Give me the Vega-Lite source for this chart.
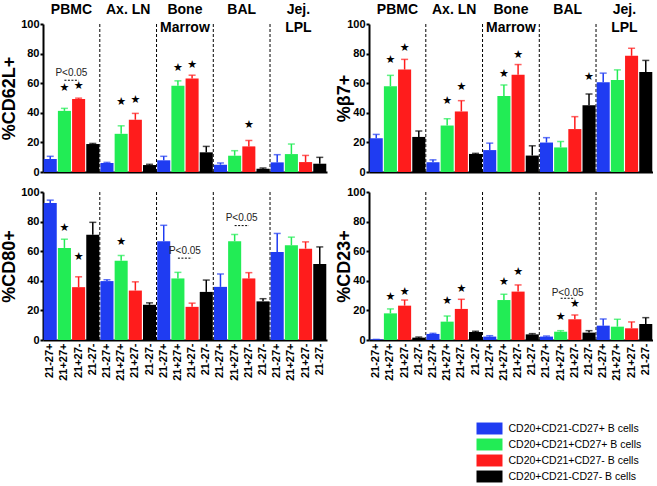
{
"$schema":"https://vega.github.io/schema/vega-lite/v6.json",
"padding":{"left":0,"top":3,"right":0,"bottom":0},
"config":{"view":{"stroke":null},"font":"Liberation Sans",
 "scale":{"bandPaddingInner":0.08,"bandPaddingOuter":0.05},
 "axis":{"labelColor":"black","labelFontWeight":"bold","labelFontSize":11,"domainColor":"black","domainWidth":2,"tickColor":"black","tickWidth":2,"tickSize":3,"titleFontSize":18,"titleFontWeight":"bold","titleColor":"black","grid":false},
 "axisX":{"ticks":false},
 "axisY":{"labelPadding":1,"titlePadding":2}},
"datasets":{
 "d":[
  {"p":"CD62L","x":"PBMC|21-27+","v":8.8,"e":10.6},
  {"p":"CD62L","x":"PBMC|21+27+","v":41.3,"e":43,"s":56.6},
  {"p":"CD62L","x":"PBMC|21+27-","v":49.4,"e":49.9,"s":57.8},
  {"p":"CD62L","x":"PBMC|21-27-","v":18.9,"e":19.3},
  {"p":"CD62L","x":"Ax. LN|21-27+","v":6.1,"e":6.5},
  {"p":"CD62L","x":"Ax. LN|21+27+","v":25.8,"e":31.2,"s":47.6},
  {"p":"CD62L","x":"Ax. LN|21+27-","v":35.3,"e":39.6,"s":48.8},
  {"p":"CD62L","x":"Ax. LN|21-27-","v":4.7,"e":5.2},
  {"p":"CD62L","x":"Bone Marrow|21-27+","v":7.9,"e":10.6},
  {"p":"CD62L","x":"Bone Marrow|21+27+","v":58.2,"e":61.6,"s":70},
  {"p":"CD62L","x":"Bone Marrow|21+27-","v":63.1,"e":65.4,"s":72.4},
  {"p":"CD62L","x":"Bone Marrow|21-27-","v":13.3,"e":17.3},
  {"p":"CD62L","x":"BAL|21-27+","v":4.9,"e":6.1},
  {"p":"CD62L","x":"BAL|21+27+","v":11,"e":14.4},
  {"p":"CD62L","x":"BAL|21+27-","v":17.3,"e":21.3,"s":31.9},
  {"p":"CD62L","x":"BAL|21-27-","v":2.2,"e":2.7},
  {"p":"CD62L","x":"Jej. LPL|21-27+","v":6.5,"e":11.7},
  {"p":"CD62L","x":"Jej. LPL|21+27+","v":12.1,"e":18.9},
  {"p":"CD62L","x":"Jej. LPL|21+27-","v":6.7,"e":11.2},
  {"p":"CD62L","x":"Jej. LPL|21-27-","v":5.6,"e":9.9},
  {"p":"B7","x":"PBMC|21-27+","v":22.8,"e":25.4},
  {"p":"B7","x":"PBMC|21+27+","v":58,"e":65.3,"s":75.7},
  {"p":"B7","x":"PBMC|21+27-","v":69.2,"e":76.1,"s":83.6},
  {"p":"B7","x":"PBMC|21-27-","v":23.7,"e":27.7},
  {"p":"B7","x":"Ax. LN|21-27+","v":6.6,"e":8.2},
  {"p":"B7","x":"Ax. LN|21+27+","v":31.4,"e":36,"s":48.2},
  {"p":"B7","x":"Ax. LN|21+27-","v":40.9,"e":48.2,"s":57.1},
  {"p":"B7","x":"Ax. LN|21-27-","v":12.2,"e":12.6},
  {"p":"B7","x":"Bone Marrow|21-27+","v":14.8,"e":19.5},
  {"p":"B7","x":"Bone Marrow|21+27+","v":51.3,"e":58.8,"s":66.4},
  {"p":"B7","x":"Bone Marrow|21+27-","v":65.7,"e":72.6,"s":79},
  {"p":"B7","x":"Bone Marrow|21-27-","v":11.1,"e":17.7},
  {"p":"B7","x":"BAL|21-27+","v":19.9,"e":23.2},
  {"p":"B7","x":"BAL|21+27+","v":16.6,"e":20.6},
  {"p":"B7","x":"BAL|21+27-","v":29,"e":37.4},
  {"p":"B7","x":"BAL|21-27-","v":45.1,"e":52.7,"s":64.2},
  {"p":"B7","x":"Jej. LPL|21-27+","v":60.6,"e":66.8},
  {"p":"B7","x":"Jej. LPL|21+27+","v":62.2,"e":69},
  {"p":"B7","x":"Jej. LPL|21+27-","v":78.5,"e":83.6},
  {"p":"B7","x":"Jej. LPL|21-27-","v":67.5,"e":75.4},
  {"p":"CD80","x":"PBMC|21-27+","v":92.5,"e":94.5},
  {"p":"CD80","x":"PBMC|21+27+","v":62.2,"e":68.1,"s":75.9},
  {"p":"CD80","x":"PBMC|21+27-","v":35.7,"e":42.7,"s":55.8},
  {"p":"CD80","x":"PBMC|21-27-","v":71.1,"e":79.5},
  {"p":"CD80","x":"Ax. LN|21-27+","v":39.8,"e":40.7},
  {"p":"CD80","x":"Ax. LN|21+27+","v":53.5,"e":57.1,"s":66.3},
  {"p":"CD80","x":"Ax. LN|21+27-","v":33.4,"e":39.3},
  {"p":"CD80","x":"Ax. LN|21-27-","v":23.8,"e":25.1},
  {"p":"CD80","x":"Bone Marrow|21-27+","v":66.7,"e":77.5},
  {"p":"CD80","x":"Bone Marrow|21+27+","v":41.6,"e":45.7},
  {"p":"CD80","x":"Bone Marrow|21+27-","v":22.4,"e":24.9},
  {"p":"CD80","x":"Bone Marrow|21-27-","v":32.5,"e":40.5},
  {"p":"CD80","x":"BAL|21-27+","v":35.9,"e":44.6},
  {"p":"CD80","x":"BAL|21+27+","v":66.7,"e":71.3},
  {"p":"CD80","x":"BAL|21+27-","v":41.6,"e":45.5},
  {"p":"CD80","x":"BAL|21-27-","v":26.1,"e":27.9},
  {"p":"CD80","x":"Jej. LPL|21-27+","v":59.4,"e":72},
  {"p":"CD80","x":"Jej. LPL|21+27+","v":64,"e":69.5},
  {"p":"CD80","x":"Jej. LPL|21+27-","v":61.7,"e":66.3},
  {"p":"CD80","x":"Jej. LPL|21-27-","v":51.4,"e":62.9},
  {"p":"CD23","x":"PBMC|21-27+","v":0.4,"e":0.4},
  {"p":"CD23","x":"PBMC|21+27+","v":18,"e":21,"s":28.8},
  {"p":"CD23","x":"PBMC|21+27-","v":23.2,"e":27,"s":32.7},
  {"p":"CD23","x":"PBMC|21-27-","v":1.6,"e":2},
  {"p":"CD23","x":"Ax. LN|21-27+","v":4.1,"e":4.5},
  {"p":"CD23","x":"Ax. LN|21+27+","v":12.4,"e":16.2,"s":26.4},
  {"p":"CD23","x":"Ax. LN|21+27-","v":21,"e":27.5,"s":34.3},
  {"p":"CD23","x":"Ax. LN|21-27-","v":5.4,"e":5.9},
  {"p":"CD23","x":"Bone Marrow|21-27+","v":2.3,"e":2.9},
  {"p":"CD23","x":"Bone Marrow|21+27+","v":27,"e":30.9,"s":39.2},
  {"p":"CD23","x":"Bone Marrow|21+27-","v":32.7,"e":37.2,"s":45.7},
  {"p":"CD23","x":"Bone Marrow|21-27-","v":3.8,"e":4.3},
  {"p":"CD23","x":"BAL|21-27+","v":2.3,"e":2.7},
  {"p":"CD23","x":"BAL|21+27+","v":5.6,"e":6.3,"s":15.8},
  {"p":"CD23","x":"BAL|21+27-","v":14,"e":16.9,"s":24.3},
  {"p":"CD23","x":"BAL|21-27-","v":5,"e":6.3},
  {"p":"CD23","x":"Jej. LPL|21-27+","v":9.7,"e":14.2},
  {"p":"CD23","x":"Jej. LPL|21+27+","v":9,"e":14},
  {"p":"CD23","x":"Jej. LPL|21+27-","v":7.9,"e":12.2},
  {"p":"CD23","x":"Jej. LPL|21-27-","v":10.8,"e":15.1}
 ],
 "seps":[{"x":"Ax. LN|21-27+"},{"x":"Bone Marrow|21-27+"},{"x":"BAL|21-27+"},{"x":"Jej. LPL|21-27+"}],
 "tissues":[{"x":"PBMC|21+27-","label":"PBMC"},{"x":"Ax. LN|21+27-","label":"Ax. LN"},{"x":"Bone Marrow|21+27-","label":"Bone\nMarrow"},{"x":"BAL|21+27-","label":"BAL"},{"x":"Jej. LPL|21+27-","label":"Jej.\nLPL"}],
 "pvals":[
  {"p":"CD62L","xa":"PBMC|21+27+","xb":"PBMC|21+27-","ty":67,"ly":62},
  {"p":"CD80","xa":"Bone Marrow|21+27+","xb":"Bone Marrow|21+27-","ty":59.9,"ly":55.3},
  {"p":"CD80","xa":"BAL|21+27+","xb":"BAL|21+27-","ty":82.3,"ly":77.3},
  {"p":"CD23","xa":"BAL|21+27+","xb":"BAL|21+27-","ty":32,"ly":28.2}
 ]
},
"spacing":9,
"vconcat":[
 {"spacing":8,"hconcat":[
  {"width":284,"height":148,"layer":[
   {"data":{"name":"seps"},"mark":{"type":"rule","strokeDash":[3,2],"strokeWidth":1,"color":"black"},
    "encoding":{"x":{"field":"x","type":"nominal","bandPosition":-0.05,"scale":{"domain":["PBMC|21-27+","PBMC|21+27+","PBMC|21+27-","PBMC|21-27-","Ax. LN|21-27+","Ax. LN|21+27+","Ax. LN|21+27-","Ax. LN|21-27-","Bone Marrow|21-27+","Bone Marrow|21+27+","Bone Marrow|21+27-","Bone Marrow|21-27-","BAL|21-27+","BAL|21+27+","BAL|21+27-","BAL|21-27-","Jej. LPL|21-27+","Jej. LPL|21+27+","Jej. LPL|21+27-","Jej. LPL|21-27-"]},"axis":{"title":null,"labels":false}}}},
   {"data":{"name":"d"},"transform":[{"filter":"datum.p=='CD62L'"},{"calculate":"split(datum.x,'|')[1]","as":"c"}],
    "encoding":{"x":{"field":"x","type":"nominal","scale":{"domain":["PBMC|21-27+","PBMC|21+27+","PBMC|21+27-","PBMC|21-27-","Ax. LN|21-27+","Ax. LN|21+27+","Ax. LN|21+27-","Ax. LN|21-27-","Bone Marrow|21-27+","Bone Marrow|21+27+","Bone Marrow|21+27-","Bone Marrow|21-27-","BAL|21-27+","BAL|21+27+","BAL|21+27-","BAL|21-27-","Jej. LPL|21-27+","Jej. LPL|21+27+","Jej. LPL|21+27-","Jej. LPL|21-27-"]},"axis":{"title":null,"labels":false}}},
    "layer":[
     {"mark":{"type":"bar"},"encoding":{"y":{"field":"v","type":"quantitative","scale":{"domain":[0,100],"nice":false},"axis":{"title":"%CD62L+","values":[0,20,40,60,80,100]}},
       "color":{"field":"c","type":"nominal","scale":{"domain":["21-27+","21+27+","21+27-","21-27-"],"range":["#1f3cf2","#22ec55","#ff1c1c","#000000"]},"legend":{"title":null,"orient":"none","legendX":440,"legendY":398,"symbolType":"M-2,-0.92H2V0.92H-2Z","symbolSize":169,"symbolStrokeWidth":0,"symbolOpacity":1,"labelFontSize":10.5,"labelColor":"black","labelFont":"Liberation Sans","labelOffset":12.5,"labelLimit":300,"rowPadding":3,"labelExpr":"'CD20+CD' + replace(datum.label,'27','CD27') + ' B cells'"}}}},
     {"mark":{"type":"rule","strokeWidth":1.5},"encoding":{"y":{"field":"v","type":"quantitative","scale":{"domain":[0,100],"nice":false},"axis":{"title":"%CD62L+","values":[0,20,40,60,80,100]}},"y2":{"field":"e"},"color":{"field":"c","type":"nominal","legend":null}}},
     {"mark":{"type":"tick","thickness":1.5,"size":7},"encoding":{"y":{"field":"e","type":"quantitative","scale":{"domain":[0,100],"nice":false},"axis":{"title":"%CD62L+","values":[0,20,40,60,80,100]}},"color":{"field":"c","type":"nominal","legend":null}}},
     {"transform":[{"filter":"isValid(datum.s)"}],"mark":{"type":"text","text":"★","font":"DejaVu Sans","fontSize":11,"baseline":"middle","color":"black"},"encoding":{"y":{"field":"s","type":"quantitative","scale":{"domain":[0,100],"nice":false},"axis":{"title":"%CD62L+","values":[0,20,40,60,80,100]}}}}
    ]},
   {"data":{"name":"pvals"},"transform":[{"filter":"datum.p=='CD62L'"}],"layer":[
     {"mark":{"type":"rule","strokeDash":[2,1.5],"strokeWidth":1,"color":"black"},"encoding":{"x":{"field":"xa","type":"nominal","axis":{"title":null,"labels":false},"scale":{"domain":["PBMC|21-27+","PBMC|21+27+","PBMC|21+27-","PBMC|21-27-","Ax. LN|21-27+","Ax. LN|21+27+","Ax. LN|21+27-","Ax. LN|21-27-","Bone Marrow|21-27+","Bone Marrow|21+27+","Bone Marrow|21+27-","Bone Marrow|21-27-","BAL|21-27+","BAL|21+27+","BAL|21+27-","BAL|21-27-","Jej. LPL|21-27+","Jej. LPL|21+27+","Jej. LPL|21+27-","Jej. LPL|21-27-"]}},"x2":{"field":"xb"},"y":{"field":"ly","type":"quantitative","scale":{"domain":[0,100],"nice":false},"axis":{"title":"%CD62L+","values":[0,20,40,60,80,100]}}}},
     {"mark":{"type":"text","text":"P<0.05","fontSize":10,"baseline":"middle","color":"#222"},"encoding":{"x":{"field":"xb","type":"nominal","bandPosition":-0.05,"axis":{"title":null,"labels":false},"scale":{"domain":["PBMC|21-27+","PBMC|21+27+","PBMC|21+27-","PBMC|21-27-","Ax. LN|21-27+","Ax. LN|21+27+","Ax. LN|21+27-","Ax. LN|21-27-","Bone Marrow|21-27+","Bone Marrow|21+27+","Bone Marrow|21+27-","Bone Marrow|21-27-","BAL|21-27+","BAL|21+27+","BAL|21+27-","BAL|21-27-","Jej. LPL|21-27+","Jej. LPL|21+27+","Jej. LPL|21+27-","Jej. LPL|21-27-"]}},"y":{"field":"ty","type":"quantitative","scale":{"domain":[0,100],"nice":false},"axis":{"title":"%CD62L+","values":[0,20,40,60,80,100]}}}}
   ]},
   {"data":{"name":"tissues"},"mark":{"type":"text","fontSize":14,"fontWeight":"bold","baseline":"top","lineBreak":"\n","lineHeight":18,"color":"black"},
    "encoding":{"text":{"field":"label"},"x":{"field":"x","type":"nominal","bandPosition":-0.05,"axis":{"title":null,"labels":false},"scale":{"domain":["PBMC|21-27+","PBMC|21+27+","PBMC|21+27-","PBMC|21-27-","Ax. LN|21-27+","Ax. LN|21+27+","Ax. LN|21+27-","Ax. LN|21-27-","Bone Marrow|21-27+","Bone Marrow|21+27+","Bone Marrow|21+27-","Bone Marrow|21-27-","BAL|21-27+","BAL|21+27+","BAL|21+27-","BAL|21-27-","Jej. LPL|21-27+","Jej. LPL|21+27+","Jej. LPL|21+27-","Jej. LPL|21-27-"]}},"y":{"datum":114,"type":"quantitative","scale":{"domain":[0,100],"nice":false},"axis":{"title":"%CD62L+","values":[0,20,40,60,80,100]}}}}
  ]},
  {"width":284,"height":148,"layer":[
   {"data":{"name":"seps"},"mark":{"type":"rule","strokeDash":[3,2],"strokeWidth":1,"color":"black"},
    "encoding":{"x":{"field":"x","type":"nominal","bandPosition":-0.05,"scale":{"domain":["PBMC|21-27+","PBMC|21+27+","PBMC|21+27-","PBMC|21-27-","Ax. LN|21-27+","Ax. LN|21+27+","Ax. LN|21+27-","Ax. LN|21-27-","Bone Marrow|21-27+","Bone Marrow|21+27+","Bone Marrow|21+27-","Bone Marrow|21-27-","BAL|21-27+","BAL|21+27+","BAL|21+27-","BAL|21-27-","Jej. LPL|21-27+","Jej. LPL|21+27+","Jej. LPL|21+27-","Jej. LPL|21-27-"]},"axis":{"title":null,"labels":false}}}},
   {"data":{"name":"d"},"transform":[{"filter":"datum.p=='B7'"},{"calculate":"split(datum.x,'|')[1]","as":"c"}],
    "encoding":{"x":{"field":"x","type":"nominal","scale":{"domain":["PBMC|21-27+","PBMC|21+27+","PBMC|21+27-","PBMC|21-27-","Ax. LN|21-27+","Ax. LN|21+27+","Ax. LN|21+27-","Ax. LN|21-27-","Bone Marrow|21-27+","Bone Marrow|21+27+","Bone Marrow|21+27-","Bone Marrow|21-27-","BAL|21-27+","BAL|21+27+","BAL|21+27-","BAL|21-27-","Jej. LPL|21-27+","Jej. LPL|21+27+","Jej. LPL|21+27-","Jej. LPL|21-27-"]},"axis":{"title":null,"labels":false}}},
    "layer":[
     {"mark":{"type":"bar"},"encoding":{"y":{"field":"v","type":"quantitative","scale":{"domain":[0,100],"nice":false},"axis":{"title":"%β7+","titlePadding":-7,"values":[0,20,40,60,80,100]}},
       "color":{"field":"c","type":"nominal","scale":{"domain":["21-27+","21+27+","21+27-","21-27-"],"range":["#1f3cf2","#22ec55","#ff1c1c","#000000"]},"legend":{"title":null,"orient":"none","legendX":440,"legendY":398,"symbolType":"M-2,-0.92H2V0.92H-2Z","symbolSize":169,"symbolStrokeWidth":0,"symbolOpacity":1,"labelFontSize":10.5,"labelColor":"black","labelFont":"Liberation Sans","labelOffset":12.5,"labelLimit":300,"rowPadding":3,"labelExpr":"'CD20+CD' + replace(datum.label,'27','CD27') + ' B cells'"}}}},
     {"mark":{"type":"rule","strokeWidth":1.5},"encoding":{"y":{"field":"v","type":"quantitative","scale":{"domain":[0,100],"nice":false},"axis":{"title":"%β7+","titlePadding":-7,"values":[0,20,40,60,80,100]}},"y2":{"field":"e"},"color":{"field":"c","type":"nominal","legend":null}}},
     {"mark":{"type":"tick","thickness":1.5,"size":7},"encoding":{"y":{"field":"e","type":"quantitative","scale":{"domain":[0,100],"nice":false},"axis":{"title":"%β7+","titlePadding":-7,"values":[0,20,40,60,80,100]}},"color":{"field":"c","type":"nominal","legend":null}}},
     {"transform":[{"filter":"isValid(datum.s)"}],"mark":{"type":"text","text":"★","font":"DejaVu Sans","fontSize":11,"baseline":"middle","color":"black"},"encoding":{"y":{"field":"s","type":"quantitative","scale":{"domain":[0,100],"nice":false},"axis":{"title":"%β7+","titlePadding":-7,"values":[0,20,40,60,80,100]}}}}
    ]},
   {"data":{"name":"tissues"},"mark":{"type":"text","fontSize":14,"fontWeight":"bold","baseline":"top","lineBreak":"\n","lineHeight":18,"color":"black"},
    "encoding":{"text":{"field":"label"},"x":{"field":"x","type":"nominal","bandPosition":-0.05,"axis":{"title":null,"labels":false},"scale":{"domain":["PBMC|21-27+","PBMC|21+27+","PBMC|21+27-","PBMC|21-27-","Ax. LN|21-27+","Ax. LN|21+27+","Ax. LN|21+27-","Ax. LN|21-27-","Bone Marrow|21-27+","Bone Marrow|21+27+","Bone Marrow|21+27-","Bone Marrow|21-27-","BAL|21-27+","BAL|21+27+","BAL|21+27-","BAL|21-27-","Jej. LPL|21-27+","Jej. LPL|21+27+","Jej. LPL|21+27-","Jej. LPL|21-27-"]}},"y":{"datum":114,"type":"quantitative","scale":{"domain":[0,100],"nice":false},"axis":{"title":"%β7+","titlePadding":-7,"values":[0,20,40,60,80,100]}}}}
  ]}
 ]},
 {"spacing":8,"hconcat":[
  {"width":284,"height":148,"layer":[
   {"data":{"name":"seps"},"mark":{"type":"rule","strokeDash":[3,2],"strokeWidth":1,"color":"black"},
    "encoding":{"x":{"field":"x","type":"nominal","bandPosition":-0.05,"scale":{"domain":["PBMC|21-27+","PBMC|21+27+","PBMC|21+27-","PBMC|21-27-","Ax. LN|21-27+","Ax. LN|21+27+","Ax. LN|21+27-","Ax. LN|21-27-","Bone Marrow|21-27+","Bone Marrow|21+27+","Bone Marrow|21+27-","Bone Marrow|21-27-","BAL|21-27+","BAL|21+27+","BAL|21+27-","BAL|21-27-","Jej. LPL|21-27+","Jej. LPL|21+27+","Jej. LPL|21+27-","Jej. LPL|21-27-"]},"axis":{"title":null,"labelAngle":270,"labelPadding":3,"labelExpr":"split(datum.label,'|')[1]"}}}},
   {"data":{"name":"d"},"transform":[{"filter":"datum.p=='CD80'"},{"calculate":"split(datum.x,'|')[1]","as":"c"}],
    "encoding":{"x":{"field":"x","type":"nominal","scale":{"domain":["PBMC|21-27+","PBMC|21+27+","PBMC|21+27-","PBMC|21-27-","Ax. LN|21-27+","Ax. LN|21+27+","Ax. LN|21+27-","Ax. LN|21-27-","Bone Marrow|21-27+","Bone Marrow|21+27+","Bone Marrow|21+27-","Bone Marrow|21-27-","BAL|21-27+","BAL|21+27+","BAL|21+27-","BAL|21-27-","Jej. LPL|21-27+","Jej. LPL|21+27+","Jej. LPL|21+27-","Jej. LPL|21-27-"]},"axis":{"title":null,"labelAngle":270,"labelPadding":3,"labelExpr":"split(datum.label,'|')[1]"}}},
    "layer":[
     {"mark":{"type":"bar"},"encoding":{"y":{"field":"v","type":"quantitative","scale":{"domain":[0,100],"nice":false},"axis":{"title":"%CD80+","values":[0,20,40,60,80,100]}},
       "color":{"field":"c","type":"nominal","scale":{"domain":["21-27+","21+27+","21+27-","21-27-"],"range":["#1f3cf2","#22ec55","#ff1c1c","#000000"]},"legend":{"title":null,"orient":"none","legendX":440,"legendY":398,"symbolType":"M-2,-0.92H2V0.92H-2Z","symbolSize":169,"symbolStrokeWidth":0,"symbolOpacity":1,"labelFontSize":10.5,"labelColor":"black","labelFont":"Liberation Sans","labelOffset":12.5,"labelLimit":300,"rowPadding":3,"labelExpr":"'CD20+CD' + replace(datum.label,'27','CD27') + ' B cells'"}}}},
     {"mark":{"type":"rule","strokeWidth":1.5},"encoding":{"y":{"field":"v","type":"quantitative","scale":{"domain":[0,100],"nice":false},"axis":{"title":"%CD80+","values":[0,20,40,60,80,100]}},"y2":{"field":"e"},"color":{"field":"c","type":"nominal","legend":null}}},
     {"mark":{"type":"tick","thickness":1.5,"size":7},"encoding":{"y":{"field":"e","type":"quantitative","scale":{"domain":[0,100],"nice":false},"axis":{"title":"%CD80+","values":[0,20,40,60,80,100]}},"color":{"field":"c","type":"nominal","legend":null}}},
     {"transform":[{"filter":"isValid(datum.s)"}],"mark":{"type":"text","text":"★","font":"DejaVu Sans","fontSize":11,"baseline":"middle","color":"black"},"encoding":{"y":{"field":"s","type":"quantitative","scale":{"domain":[0,100],"nice":false},"axis":{"title":"%CD80+","values":[0,20,40,60,80,100]}}}}
    ]},
   {"data":{"name":"pvals"},"transform":[{"filter":"datum.p=='CD80'"}],"layer":[
     {"mark":{"type":"rule","strokeDash":[2,1.5],"strokeWidth":1,"color":"black"},"encoding":{"x":{"field":"xa","type":"nominal","axis":{"title":null,"labelAngle":270,"labelPadding":3,"labelExpr":"split(datum.label,'|')[1]"},"scale":{"domain":["PBMC|21-27+","PBMC|21+27+","PBMC|21+27-","PBMC|21-27-","Ax. LN|21-27+","Ax. LN|21+27+","Ax. LN|21+27-","Ax. LN|21-27-","Bone Marrow|21-27+","Bone Marrow|21+27+","Bone Marrow|21+27-","Bone Marrow|21-27-","BAL|21-27+","BAL|21+27+","BAL|21+27-","BAL|21-27-","Jej. LPL|21-27+","Jej. LPL|21+27+","Jej. LPL|21+27-","Jej. LPL|21-27-"]}},"x2":{"field":"xb"},"y":{"field":"ly","type":"quantitative","scale":{"domain":[0,100],"nice":false},"axis":{"title":"%CD80+","values":[0,20,40,60,80,100]}}}},
     {"mark":{"type":"text","text":"P<0.05","fontSize":10,"baseline":"middle","color":"#222"},"encoding":{"x":{"field":"xb","type":"nominal","bandPosition":-0.05,"axis":{"title":null,"labelAngle":270,"labelPadding":3,"labelExpr":"split(datum.label,'|')[1]"},"scale":{"domain":["PBMC|21-27+","PBMC|21+27+","PBMC|21+27-","PBMC|21-27-","Ax. LN|21-27+","Ax. LN|21+27+","Ax. LN|21+27-","Ax. LN|21-27-","Bone Marrow|21-27+","Bone Marrow|21+27+","Bone Marrow|21+27-","Bone Marrow|21-27-","BAL|21-27+","BAL|21+27+","BAL|21+27-","BAL|21-27-","Jej. LPL|21-27+","Jej. LPL|21+27+","Jej. LPL|21+27-","Jej. LPL|21-27-"]}},"y":{"field":"ty","type":"quantitative","scale":{"domain":[0,100],"nice":false},"axis":{"title":"%CD80+","values":[0,20,40,60,80,100]}}}}
   ]}
  ]},
  {"width":284,"height":148,"layer":[
   {"data":{"name":"seps"},"mark":{"type":"rule","strokeDash":[3,2],"strokeWidth":1,"color":"black"},
    "encoding":{"x":{"field":"x","type":"nominal","bandPosition":-0.05,"scale":{"domain":["PBMC|21-27+","PBMC|21+27+","PBMC|21+27-","PBMC|21-27-","Ax. LN|21-27+","Ax. LN|21+27+","Ax. LN|21+27-","Ax. LN|21-27-","Bone Marrow|21-27+","Bone Marrow|21+27+","Bone Marrow|21+27-","Bone Marrow|21-27-","BAL|21-27+","BAL|21+27+","BAL|21+27-","BAL|21-27-","Jej. LPL|21-27+","Jej. LPL|21+27+","Jej. LPL|21+27-","Jej. LPL|21-27-"]},"axis":{"title":null,"labelAngle":270,"labelPadding":3,"labelExpr":"split(datum.label,'|')[1]"}}}},
   {"data":{"name":"d"},"transform":[{"filter":"datum.p=='CD23'"},{"calculate":"split(datum.x,'|')[1]","as":"c"}],
    "encoding":{"x":{"field":"x","type":"nominal","scale":{"domain":["PBMC|21-27+","PBMC|21+27+","PBMC|21+27-","PBMC|21-27-","Ax. LN|21-27+","Ax. LN|21+27+","Ax. LN|21+27-","Ax. LN|21-27-","Bone Marrow|21-27+","Bone Marrow|21+27+","Bone Marrow|21+27-","Bone Marrow|21-27-","BAL|21-27+","BAL|21+27+","BAL|21+27-","BAL|21-27-","Jej. LPL|21-27+","Jej. LPL|21+27+","Jej. LPL|21+27-","Jej. LPL|21-27-"]},"axis":{"title":null,"labelAngle":270,"labelPadding":3,"labelExpr":"split(datum.label,'|')[1]"}}},
    "layer":[
     {"mark":{"type":"bar"},"encoding":{"y":{"field":"v","type":"quantitative","scale":{"domain":[0,100],"nice":false},"axis":{"title":"%CD23+","titlePadding":-7,"values":[0,20,40,60,80,100]}},
       "color":{"field":"c","type":"nominal","scale":{"domain":["21-27+","21+27+","21+27-","21-27-"],"range":["#1f3cf2","#22ec55","#ff1c1c","#000000"]},"legend":{"title":null,"orient":"none","legendX":440,"legendY":398,"symbolType":"M-2,-0.92H2V0.92H-2Z","symbolSize":169,"symbolStrokeWidth":0,"symbolOpacity":1,"labelFontSize":10.5,"labelColor":"black","labelFont":"Liberation Sans","labelOffset":12.5,"labelLimit":300,"rowPadding":3,"labelExpr":"'CD20+CD' + replace(datum.label,'27','CD27') + ' B cells'"}}}},
     {"mark":{"type":"rule","strokeWidth":1.5},"encoding":{"y":{"field":"v","type":"quantitative","scale":{"domain":[0,100],"nice":false},"axis":{"title":"%CD23+","titlePadding":-7,"values":[0,20,40,60,80,100]}},"y2":{"field":"e"},"color":{"field":"c","type":"nominal","legend":null}}},
     {"mark":{"type":"tick","thickness":1.5,"size":7},"encoding":{"y":{"field":"e","type":"quantitative","scale":{"domain":[0,100],"nice":false},"axis":{"title":"%CD23+","titlePadding":-7,"values":[0,20,40,60,80,100]}},"color":{"field":"c","type":"nominal","legend":null}}},
     {"transform":[{"filter":"isValid(datum.s)"}],"mark":{"type":"text","text":"★","font":"DejaVu Sans","fontSize":11,"baseline":"middle","color":"black"},"encoding":{"y":{"field":"s","type":"quantitative","scale":{"domain":[0,100],"nice":false},"axis":{"title":"%CD23+","titlePadding":-7,"values":[0,20,40,60,80,100]}}}}
    ]},
   {"data":{"name":"pvals"},"transform":[{"filter":"datum.p=='CD23'"}],"layer":[
     {"mark":{"type":"rule","strokeDash":[2,1.5],"strokeWidth":1,"color":"black"},"encoding":{"x":{"field":"xa","type":"nominal","axis":{"title":null,"labelAngle":270,"labelPadding":3,"labelExpr":"split(datum.label,'|')[1]"},"scale":{"domain":["PBMC|21-27+","PBMC|21+27+","PBMC|21+27-","PBMC|21-27-","Ax. LN|21-27+","Ax. LN|21+27+","Ax. LN|21+27-","Ax. LN|21-27-","Bone Marrow|21-27+","Bone Marrow|21+27+","Bone Marrow|21+27-","Bone Marrow|21-27-","BAL|21-27+","BAL|21+27+","BAL|21+27-","BAL|21-27-","Jej. LPL|21-27+","Jej. LPL|21+27+","Jej. LPL|21+27-","Jej. LPL|21-27-"]}},"x2":{"field":"xb"},"y":{"field":"ly","type":"quantitative","scale":{"domain":[0,100],"nice":false},"axis":{"title":"%CD23+","titlePadding":-7,"values":[0,20,40,60,80,100]}}}},
     {"mark":{"type":"text","text":"P<0.05","fontSize":10,"baseline":"middle","color":"#222"},"encoding":{"x":{"field":"xb","type":"nominal","bandPosition":-0.05,"axis":{"title":null,"labelAngle":270,"labelPadding":3,"labelExpr":"split(datum.label,'|')[1]"},"scale":{"domain":["PBMC|21-27+","PBMC|21+27+","PBMC|21+27-","PBMC|21-27-","Ax. LN|21-27+","Ax. LN|21+27+","Ax. LN|21+27-","Ax. LN|21-27-","Bone Marrow|21-27+","Bone Marrow|21+27+","Bone Marrow|21+27-","Bone Marrow|21-27-","BAL|21-27+","BAL|21+27+","BAL|21+27-","BAL|21-27-","Jej. LPL|21-27+","Jej. LPL|21+27+","Jej. LPL|21+27-","Jej. LPL|21-27-"]}},"y":{"field":"ty","type":"quantitative","scale":{"domain":[0,100],"nice":false},"axis":{"title":"%CD23+","titlePadding":-7,"values":[0,20,40,60,80,100]}}}}
   ]}
  ]}
 ]}
]
}
